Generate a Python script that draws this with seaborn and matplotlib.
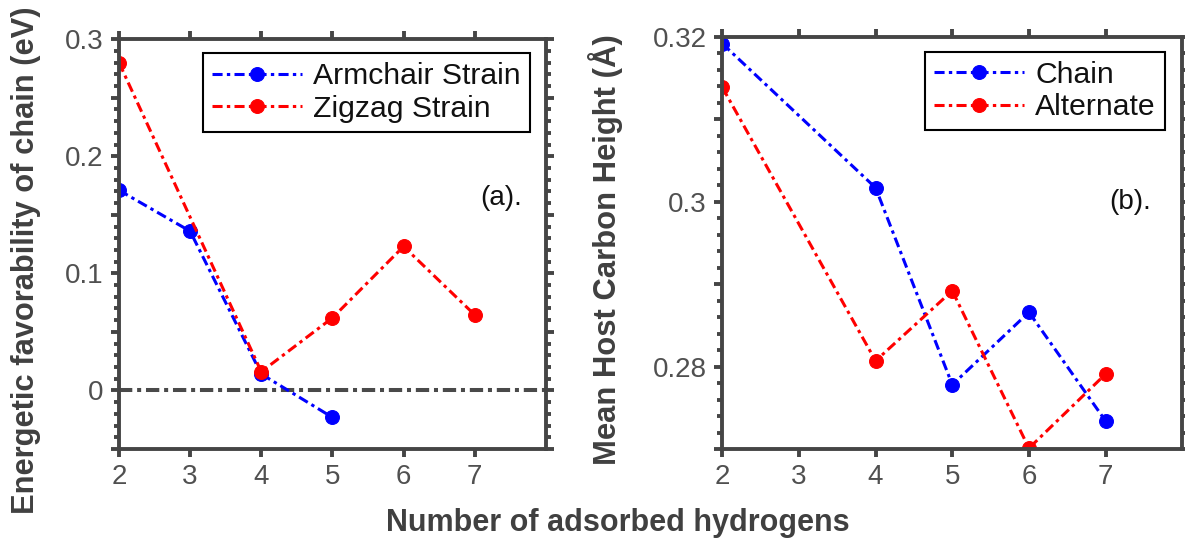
import numpy as np
import pandas as pd
import matplotlib
matplotlib.use('Agg')
import matplotlib.pyplot as plt
import seaborn as sns
from matplotlib.ticker import MultipleLocator, FuncFormatter

# Data
arm_x = [2, 3, 4, 5]
arm_y = [0.171, 0.136, 0.014, -0.023]
zig_x = [2, 4, 5, 6, 7]
zig_y = [0.280, 0.016, 0.062, 0.123, 0.0645]

chain_x = [2, 4, 5, 6, 7]
chain_y = [0.3192, 0.3017, 0.2778, 0.2866, 0.2734]
alt_x = [2, 4, 5, 6, 7]
alt_y = [0.3139, 0.2807, 0.2892, 0.2701, 0.2791]

xticks = [2, 3, 4, 5, 6, 7]

sns.set_style('ticks')
plt.rcParams['font.family'] = ['Liberation Sans', 'DejaVu Sans']

spine_col = '#454545'
blue = '#0000ff'
red = '#ff0000'
dashdot = (0, (3.3, 1.4, 1.1, 1.4))

fig = plt.figure(figsize=(11.85, 5.4), dpi=100)
ax1 = fig.add_axes([0.1004, 0.1685, 0.3603, 0.759])
ax2 = fig.add_axes([0.6095, 0.1685, 0.3882, 0.763])


def draw(ax, x, y, color, label):
    sns.lineplot(x=x, y=y, ax=ax, color=color, linestyle=dashdot, linewidth=2.2,
                 marker='o', markersize=10, markeredgecolor=color,
                 markerfacecolor=color, label=label, legend=False)


draw(ax1, arm_x, arm_y, blue, 'Armchair Strain')
draw(ax1, zig_x, zig_y, red, 'Zigzag Strain')
ax1.axhline(0, color='#4a4a4a', linestyle=(0, (3.3, 1.2, 1.0, 1.2)),
            linewidth=2.9, zorder=1)

draw(ax2, chain_x, chain_y, blue, 'Chain')
draw(ax2, alt_x, alt_y, red, 'Alternate')


def style(ax, ylim, major, minor, labstep):
    ax.set_xlim(2, 8)
    ax.set_ylim(*ylim)
    ax.set_xticks(xticks)
    ax.yaxis.set_major_locator(MultipleLocator(major))
    ax.yaxis.set_minor_locator(MultipleLocator(minor))

    def fmt(v, pos):
        k = v / labstep
        if abs(k - round(k)) < 1e-6:
            return f'{round(k) * labstep:g}'
        return ''
    ax.yaxis.set_major_formatter(FuncFormatter(fmt))
    for s in ax.spines.values():
        s.set_visible(True)
        s.set_color(spine_col)
        s.set_linewidth(2.8)
    ax.tick_params(which='both', direction='out', top=True, right=True,
                   color=spine_col, width=2.8)
    ax.tick_params(which='major', length=6, pad=5, labelsize=20,
                   labelcolor='#505050')
    ax.tick_params(which='minor', length=3.5)
    ax.tick_params(axis='x', which='minor', top=False, bottom=False)
    ax.set_xlabel('')


style(ax1, (-0.05, 0.3), 0.05, 0.01, 0.1)
style(ax2, (0.27, 0.32), 0.01, 0.002, 0.02)

ax1.set_ylabel('Energetic favorability of chain (eV)', fontsize=22.2,
               fontweight='bold', color='#404040')
ax1.yaxis.set_label_coords(-0.182, 0.461)
ax2.set_ylabel('Mean Host Carbon Height (Å)', fontsize=22.3,
               fontweight='bold', color='#404040')
ax2.yaxis.set_label_coords(-0.215, 0.485)

ax1.text(7.37, 0.164, '(a).', fontsize=20, ha='center', va='center', color='#111111')
ax2.text(7.32, 0.300, '(b).', fontsize=20, ha='center', va='center', color='#111111')

for ax, anchor in [(ax1, (0.9625, 0.966)), (ax2, (0.962, 0.964))]:
    leg = ax.legend(loc='upper right', bbox_to_anchor=anchor, borderaxespad=0,
                    fontsize=21.7, handlelength=3.0, fancybox=False,
                    framealpha=1, edgecolor='black', borderpad=0.3,
                    labelspacing=0.15, handletextpad=0.37)
    leg.get_frame().set_linewidth(1.5)
    for t in leg.get_texts():
        t.set_color('#111111')

fig.text(0.521, 0.017, 'Number of adsorbed hydrogens', fontsize=22,
         fontweight='bold', color='#404040', ha='center', va='baseline')

fig.savefig('out.png', dpi=100)
